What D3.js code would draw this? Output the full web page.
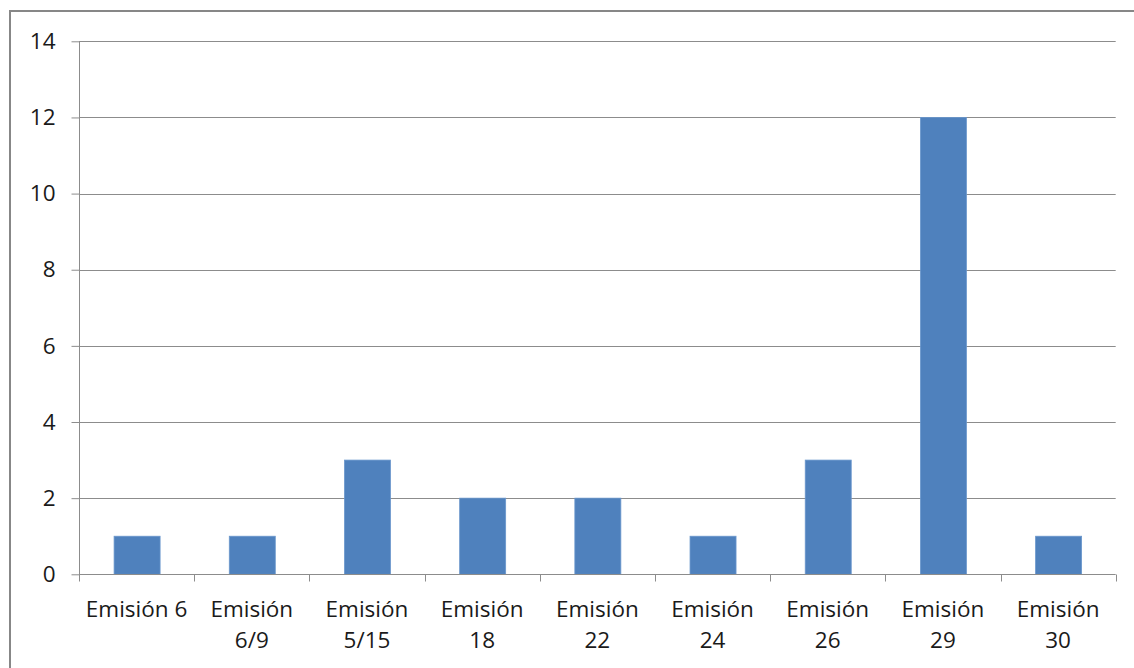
<!DOCTYPE html>
<html><head><meta charset="utf-8">
<script src="https://cdn.jsdelivr.net/npm/d3@7"></script>
<style>body{margin:0;background:#fff}svg{display:block}</style>
</head><body>
<script>
const categories = [["Emisión 6"],["Emisión","6/9"],["Emisión","5/15"],["Emisión","18"],["Emisión","22"],["Emisión","24"],["Emisión","26"],["Emisión","29"],["Emisión","30"]];
const values = [1,1,3,2,2,1,3,12,1];
const yTicks = [0,2,4,6,8,10,12,14];

const W=1134,H=668;
const svg=d3.select("body").append("svg").attr("width",W).attr("height",H);
svg.append("rect").attr("x",10).attr("y",11).attr("width",1140).attr("height",700)
  .attr("fill","#fff").attr("stroke","#878787").attr("stroke-width",2);

const pL=79,pR=1115.7,pT=41.3,pB=574.3;
const x=d3.scaleBand().domain(d3.range(categories.length)).range([pL,pR]).paddingInner(0).paddingOuter(0);
const y=d3.scaleLinear().domain([0,14]).range([pB,pT]);
const font="'Open Sans', sans-serif";
const fs=22.5;

// gridlines
svg.append("g").selectAll("line").data(yTicks.filter(d=>d>0)).join("line")
  .attr("x1",pL).attr("x2",pR).attr("y1",d=>Math.round(y(d))+0.5).attr("y2",d=>Math.round(y(d))+0.5)
  .attr("stroke","#8c8c8c").attr("stroke-width",1);

// bars
const bw=46;
svg.append("g").selectAll("rect").data(values).join("rect")
  .attr("x",(d,i)=>x(i)+x.bandwidth()/2-bw/2+0.5)
  .attr("y",d=>y(d)).attr("width",bw).attr("height",d=>y(0)-y(d))
  .attr("fill","#4F81BD").attr("stroke","#6a97cc").attr("stroke-width",0.8);

// y axis
const ya=svg.append("g").attr("transform",`translate(${pL+0.5},0)`)
  .call(d3.axisLeft(y).tickValues(yTicks).tickSize(8).tickPadding(16).tickFormat(d3.format("d")));
ya.select(".domain").attr("stroke","#8c8c8c").attr("d",`M-0,${pT}V${pB}`);
ya.selectAll(".tick line").attr("stroke","#8c8c8c");
ya.selectAll(".tick text").attr("font-family",font).attr("font-size",fs).attr("fill","#1a1a1a");

// x axis
const xa=svg.append("g").attr("transform",`translate(0,${Math.round(pB)+0.5})`);
xa.append("line").attr("x1",pL).attr("x2",pR).attr("stroke","#8c8c8c");
const bounds=d3.range(categories.length+1).map(i=>i<categories.length?x(i):pR);
xa.selectAll("line.t").data(bounds).join("line").attr("class","t")
  .attr("x1",d=>Math.round(d)+0.5).attr("x2",d=>Math.round(d)+0.5).attr("y1",0).attr("y2",7).attr("stroke","#8c8c8c");
const lab=xa.selectAll("text").data(categories).join("text")
  .attr("text-anchor","middle").attr("font-family",font).attr("font-size",fs).attr("fill","#1a1a1a");
lab.each(function(d,i){
  const t=d3.select(this);
  d.forEach((s,k)=>t.append("tspan").attr("x",x(i)+x.bandwidth()/2).attr("y",42+k*31).text(s));
});
</script>
</body></html>
